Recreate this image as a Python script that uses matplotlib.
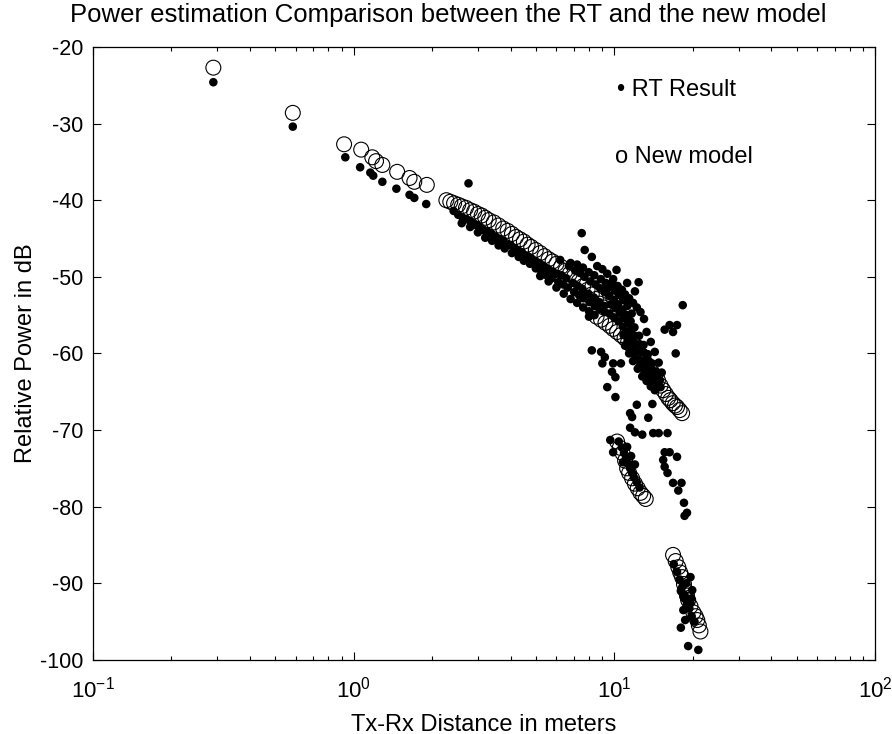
import matplotlib
import matplotlib.pyplot as plt
from matplotlib.ticker import LogLocator, MultipleLocator

matplotlib.use("agg")

plt.rcParams["font.family"] = ["Liberation Sans", "DejaVu Sans"]
plt.rcParams["axes.unicode_minus"] = False
plt.rcParams["mathtext.fontset"] = "custom"
plt.rcParams["mathtext.rm"] = "Liberation Sans"
plt.rcParams["mathtext.it"] = "Liberation Sans"
plt.rcParams["mathtext.default"] = "regular"

# ---- RT Result (filled dots) ----
rt_near_x = [0.29, 0.585, 0.93, 1.06, 1.16, 1.19, 1.29, 1.46, 1.64, 1.71, 1.90, 2.76]
rt_near_y = [-24.6, -30.4, -34.4, -35.7, -36.4, -36.8, -37.6, -38.5, -39.3, -39.7, -40.5, -37.8]

rt_row1_x = [2.42, 2.52, 2.62, 2.72, 2.82, 2.92, 3.02, 3.14, 3.26, 3.38, 3.5, 3.62, 3.75, 3.88,
             4.0, 4.14, 4.28, 4.42, 4.56, 4.7, 4.85, 5.0, 5.15, 5.3, 5.45, 5.6, 5.8, 6.0]
rt_row1_y = [-41.4, -41.9, -42.3, -42.5, -42.8, -43.2, -43.4, -43.9, -44.1, -44.4, -44.8, -45.1,
             -45.3, -45.8, -45.9, -46.3, -46.6, -46.8, -47.2, -47.4, -47.7, -48.0, -48.2, -48.5,
             -48.8, -49.0, -49.3, -49.6]
rt_row2_x = [2.6, 2.8, 3.0, 3.2, 3.4, 3.6, 3.8, 4.05, 4.3, 4.5, 4.75, 5.0, 5.25, 5.5, 5.75, 6.1]
rt_row2_y = [-43.0, -43.5, -44.2, -44.9, -45.3, -45.9, -46.3, -46.9, -47.4, -47.9, -48.3, -48.9,
             -49.3, -49.8, -50.2, -50.7]

rt_dense_x = [6.28, 6.36,
              6.55, 6.63, 6.70,
              6.95, 7.02, 7.08,
              7.25, 7.33, 7.38,
              7.55, 7.62, 7.68, 7.58,
              7.95, 8.03, 8.10, 7.98,
              8.35, 8.42, 8.48, 8.38,
              8.75, 8.82, 8.88, 8.78,
              9.15, 9.22, 9.28, 9.18,
              9.55, 9.62, 9.68, 9.58,
              9.95, 10.02, 10.10, 9.98,
              10.35, 10.42, 10.50, 10.38,
              10.75, 10.82, 10.90, 10.78, 10.85,
              11.15, 11.22, 11.30, 11.18, 11.25,
              11.55, 11.62, 11.70, 11.58, 11.66,
              11.95, 12.02, 12.10, 11.98, 12.06,
              12.45, 12.52, 12.60, 12.48, 12.56,
              12.95, 13.02, 13.10, 12.98, 13.06,
              13.45, 13.52, 13.60, 13.48,
              13.95, 14.02, 14.10, 13.98,
              14.45, 14.52, 14.60,
              14.95, 15.05]
rt_dense_y = [-49.8, -51.0,
              -50.2, -51.4, -48.6,
              -50.8, -52.0, -49.2,
              -51.2, -52.4, -49.5,
              -51.6, -52.8, -50.0, -48.8,
              -52.2, -53.3, -50.6, -49.4,
              -52.7, -53.8, -51.0, -49.8,
              -53.3, -51.5, -50.3, -54.2,
              -53.8, -52.0, -50.8, -54.6,
              -52.5, -51.3, -53.6, -54.8,
              -53.0, -51.8, -54.1, -55.3,
              -53.6, -52.4, -54.7, -55.8,
              -54.3, -53.0, -55.4, -56.5, -57.6,
              -55.0, -53.8, -56.1, -57.2, -58.3,
              -55.8, -56.9, -58.0, -59.0, -54.8,
              -56.6, -57.7, -58.8, -59.8, -60.7,
              -57.7, -58.8, -59.8, -60.8, -61.6,
              -58.9, -59.9, -60.9, -61.8, -62.5,
              -60.1, -61.1, -62.0, -62.9,
              -61.3, -62.2, -63.1, -63.8,
              -62.4, -63.3, -64.1,
              -63.5, -64.4]

rt_blob_x = [5.2, 5.6, 6.0, 6.4, 6.8, 7.2, 7.6, 8.0, 8.4,
             6.2, 6.8, 7.2, 8.6, 9.0, 9.4,
             9.3, 9.8, 10.3, 10.7, 11.0, 11.4, 11.8, 12.2, 12.6, 13.0, 12.0, 11.2,
             13.3, 13.8, 14.3, 14.8, 15.2,
             11.0, 11.4, 11.8, 12.3, 12.8, 13.3, 13.8, 14.3]
rt_blob_y = [-49.9, -50.6, -51.4, -52.2, -52.9, -53.4, -54.0, -54.5, -55.0,
             -47.8, -48.2, -48.4, -48.6, -49.0, -49.6,
             -51.8, -50.8, -51.2, -51.7, -52.3, -52.8, -53.4, -54.0, -54.6, -55.5, -51.9, -50.8,
             -57.2, -58.5, -59.8, -61.2, -62.5,
             -59.0, -60.0, -61.0, -62.0, -63.0, -63.6, -64.3, -64.8]

rt_scatter_x = [7.5, 7.7, 8.2, 10.2, 9.9, 12.4, 18.3, 17.4, 15.6, 16.8, 17.2, 8.0, 8.2, 8.9, 9.2,
                9.0, 9.9, 10.6, 9.8, 10.1, 9.4, 10.1, 12.2, 14.0, 11.5, 11.7, 13.5, 11.5, 12.0,
                12.8, 14.1, 14.8, 16.0, 9.65, 9.9, 15.6, 16.3, 17.4, 15.4, 15.6, 16.0, 16.8,
                18.1, 17.6, 16.3, 18.5, 19.0, 18.6]
rt_scatter_y = [-44.3, -46.5, -47.4, -49.1, -50.3, -50.7, -53.7, -56.3, -56.9, -57.2, -60.0,
                -55.2, -59.6, -59.8, -60.5, -61.3, -61.3, -61.3, -62.4, -63.1, -64.4, -65.7,
                -66.7, -66.6, -67.8, -68.3, -68.4, -69.7, -70.3, -70.6, -70.4, -70.4, -70.4,
                -71.3, -72.9, -72.9, -72.9, -73.5, -73.9, -74.8, -75.6, -76.9, -76.9, -77.9,
                -56.3, -79.5, -80.8, -81.2]

rt_mid_x = [10.4, 10.7, 10.9, 11.1, 11.3, 11.5, 11.7, 11.9, 12.2, 12.5, 11.2, 11.6, 10.8, 12.0]
rt_mid_y = [-71.5, -72.3, -73.0, -73.6, -74.3, -75.0, -75.6, -76.2, -76.8, -77.5, -72.2, -73.4,
            -74.2, -74.5]

rt_far_x = [16.9, 17.4, 17.8, 18.3, 18.6, 19.0, 19.4, 19.7, 18.9, 18.0, 18.4, 19.8, 20.3, 18.0,
            19.2, 21.0, 19.6, 19.9, 18.5, 19.6, 18.7]
rt_far_y = [-87.5, -88.5, -89.5, -90.4, -91.5, -92.6, -93.3, -92.0, -90.0, -91.0, -93.5, -94.3,
            -95.0, -95.8, -98.2, -98.7, -89.2, -90.9, -91.9, -92.6, -94.8]

# ---- New model (open circles) ----
nm_near_x = [0.29, 0.585, 0.92, 1.07, 1.18, 1.22, 1.29, 1.47, 1.64, 1.71, 1.91]
nm_near_y = [-22.7, -28.6, -32.7, -33.4, -34.4, -34.9, -35.4, -36.3, -37.1, -37.6, -38.0]

nm_band1_x = [2.27, 2.35, 2.43, 2.52, 2.6, 2.7, 2.8, 2.9, 3.0, 3.1, 3.2, 3.3, 3.45, 3.6, 3.75,
              3.9, 4.05, 4.2, 4.35, 4.5, 4.65, 4.8, 5.0, 5.2, 5.4, 5.6, 5.8, 6.0, 6.25, 6.5,
              6.75, 7.0, 7.3, 7.6, 7.9, 8.2, 8.5, 8.8, 9.1]
nm_band1_y = [-40.0, -40.2, -40.4, -40.6, -40.8, -41.0, -41.3, -41.5, -41.8, -42.0, -42.3, -42.6,
              -42.9, -43.3, -43.7, -44.0, -44.4, -44.8, -45.1, -45.4, -45.8, -46.1, -46.5, -46.9,
              -47.3, -47.7, -48.0, -48.3, -48.7, -49.2, -49.6, -50.0, -50.6, -51.2, -51.7, -52.3,
              -52.9, -53.5, -54.0]

nm_band2_x = [8.55, 8.9, 9.25, 9.6, 9.9, 10.25, 10.6, 10.95, 11.3, 11.6, 11.95, 12.3, 12.6, 12.95,
              13.3, 13.65, 14.0, 14.35, 14.7, 15.05, 15.4, 15.75, 16.1, 16.4, 16.75, 17.1, 17.4,
              17.8, 18.2]
nm_band2_y = [-55.2, -55.6, -56.0, -56.4, -56.8, -57.2, -57.6, -58.0, -58.5, -58.9, -59.3, -59.8,
              -60.2, -60.8, -61.4, -62.0, -62.5, -63.0, -63.5, -64.2, -64.8, -65.3, -65.8, -66.1,
              -66.5, -66.8, -67.0, -67.4, -67.8]

nm_band3_x = [10.25, 10.5, 10.75, 11.0, 11.2, 11.4, 11.7, 12.0, 12.3, 12.6, 12.9, 13.2]
nm_band3_y = [-71.5, -72.3, -73.0, -74.0, -75.0, -75.6, -76.3, -77.0, -77.6, -78.2, -78.6, -79.0]

nm_band4_x = [16.8, 17.2, 17.6, 17.9, 18.2, 18.5, 18.7, 19.0, 19.2, 19.6, 20.1, 20.5, 20.8, 21.1,
              21.4]
nm_band4_y = [-86.3, -87.1, -87.9, -88.6, -89.2, -90.1, -90.9, -91.6, -92.2, -93.0, -93.8, -94.3,
              -94.8, -95.5, -96.3]

rt_x = (rt_near_x + rt_row1_x + rt_row2_x + rt_dense_x + rt_blob_x + rt_scatter_x
        + rt_mid_x + rt_far_x)
rt_y = (rt_near_y + rt_row1_y + rt_row2_y + rt_dense_y + rt_blob_y + rt_scatter_y
        + rt_mid_y + rt_far_y)
nm_x = nm_near_x + nm_band1_x + nm_band2_x + nm_band3_x + nm_band4_x
nm_y = nm_near_y + nm_band1_y + nm_band2_y + nm_band3_y + nm_band4_y

fig = plt.figure(figsize=(8.92, 7.34), dpi=100)
ax = fig.add_axes([0.104, 0.101, 0.877, 0.835])

ax.scatter(rt_x, rt_y, s=38, c="black", edgecolors="none", zorder=2)
ax.scatter(nm_x, nm_y, s=115, facecolors="none", edgecolors="black", linewidths=0.8, zorder=3)

ax.set_xscale("log")
ax.set_xlim(0.1, 100)
ax.set_ylim(-100, -20)
ax.yaxis.set_major_locator(MultipleLocator(10))
ax.xaxis.set_major_locator(LogLocator(base=10))
ax.xaxis.set_minor_locator(LogLocator(base=10, subs=range(2, 10)))

ax.tick_params(which="both", direction="in", top=True, right=True, width=0.8)
ax.tick_params(axis="y", labelsize=15.5, pad=7)
ax.tick_params(axis="x", labelsize=16, pad=12)
ax.tick_params(which="major", length=6)
ax.tick_params(which="minor", length=3)
for sp in ax.spines.values():
    sp.set_linewidth(0.9)

ax.set_xlabel("Tx-Rx Distance in meters", fontsize=17, labelpad=8)
ax.set_ylabel("Relative Power in dB", fontsize=17, labelpad=2)
fig.text(0.502, 0.979, "Power estimation Comparison between the RT and the new model",
         ha="center", va="center", fontsize=18.5)

ax.text(0.670, 0.930, "\u2022 RT Result", transform=ax.transAxes, fontsize=17, va="center")
ax.text(0.668, 0.820, "o New model", transform=ax.transAxes, fontsize=17, va="center")

fig.savefig("out.png", dpi=100)
plt.close(fig)
